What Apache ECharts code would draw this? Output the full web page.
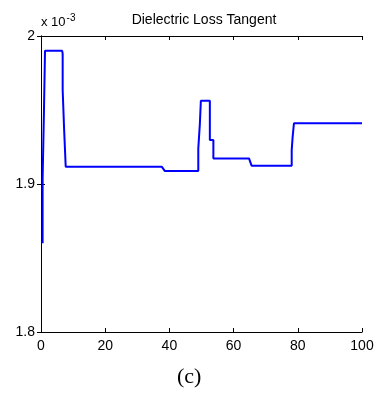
<!DOCTYPE html>
<html>
<head>
<meta charset="utf-8">
<script src="https://cdn.jsdelivr.net/npm/echarts@6/dist/echarts.min.js"></script>
<style>
  html, body { margin: 0; padding: 0; background: #fff; }
  #main { width: 377px; height: 396px; }
</style>
</head>
<body>
<div id="main"></div>
<script>
// 数据 (y 单位: x10^-3)
var xVals = [0.5, 0.5, 0.9, 0.9, 1.25, 1.25, 6.6, 6.75, 6.75, 7.2, 7.2, 7.7, 7.7, 37.6, 38.6, 49.0, 49.0, 49.5, 49.5, 49.8, 49.8, 52.6, 52.6, 53.7, 53.7, 64.8, 65.6, 78.1, 78.1, 78.4, 78.4, 78.8, 78.8, 100];
var yVals = [1.860, 1.903, 1.903, 1.947, 1.947, 1.990, 1.990, 1.988, 1.9635, 1.9635, 1.937, 1.937, 1.9117, 1.9117, 1.9087, 1.9087, 1.924, 1.924, 1.941, 1.941, 1.9563, 1.9563, 1.9297, 1.9297, 1.9173, 1.9173, 1.9124, 1.9124, 1.9229, 1.9229, 1.932, 1.932, 1.941, 1.941];
var yTicks = [1.8, 1.9, 2];
var xTicks = [0, 20, 40, 60, 80, 100];

var pts = xVals.map(function (x, i) { return [x, yVals[i]]; });

var myChart = echarts.init(document.getElementById('main'));
var axisFont = { fontFamily: 'Liberation Sans, Arial', fontSize: 14, color: '#000' };
var lineSt = { lineStyle: { color: '#000', width: 1 } };

var option = {
  animation: false,
  backgroundColor: '#fff',
  title: {
    text: 'Dielectric Loss Tangent',
    left: 199, top: 8, textAlign: 'center',
    textStyle: { fontFamily: 'Liberation Sans, Arial', fontSize: 14, fontWeight: 'normal', color: '#000' }
  },
  grid: { left: 41, right: 15, top: 36, bottom: 64 },
  xAxis: [
    {
      type: 'value', min: 0, max: 100, interval: 20, position: 'bottom',
      axisLine: lineSt, splitLine: { show: false },
      axisTick: { inside: true, length: 4, lineStyle: { color: '#000' } },
      axisLabel: Object.assign({ margin: 7 }, axisFont)
    },
    {
      type: 'value', min: 0, max: 100, interval: 20, position: 'top',
      axisLine: lineSt, splitLine: { show: false },
      axisTick: { inside: true, length: 4, lineStyle: { color: '#000' } },
      axisLabel: { show: false }
    }
  ],
  yAxis: [
    {
      type: 'value', min: 1.8, max: 2, interval: 0.1, position: 'left',
      axisLine: lineSt, splitLine: { show: false },
      axisTick: { inside: true, length: 4, lineStyle: { color: '#000' } },
      axisLabel: Object.assign({
        margin: 6,
        formatter: function (v) { return String(+v.toFixed(1)); }
      }, axisFont)
    },
    {
      type: 'value', min: 1.8, max: 2, interval: 0.1, position: 'right',
      axisLine: lineSt, splitLine: { show: false },
      axisTick: { inside: true, length: 4, lineStyle: { color: '#000' } },
      axisLabel: { show: false }
    }
  ],
  series: [
    {
      type: 'line',
      data: pts,
      showSymbol: false,
      lineStyle: { color: '#0000ff', width: 2 },
      itemStyle: { color: '#0000ff' }
    }
  ],
  graphic: [
    {
      type: 'text', left: 41, top: 13,
      style: {
        text: 'x 10{s|-3}',
        font: '13px Liberation Sans, Arial',
        fill: '#000',
        rich: { s: { fontSize: 10, verticalAlign: 'top', padding: [0, 0, 8, 1], fontFamily: 'Liberation Sans, Arial' } }
      }
    },
    {
      type: 'text', left: 177, top: 366,
      style: { text: '(c)', font: '22px Liberation Serif, Times New Roman', fill: '#000' }
    }
  ]
};

myChart.setOption(option);
</script>
</body>
</html>
